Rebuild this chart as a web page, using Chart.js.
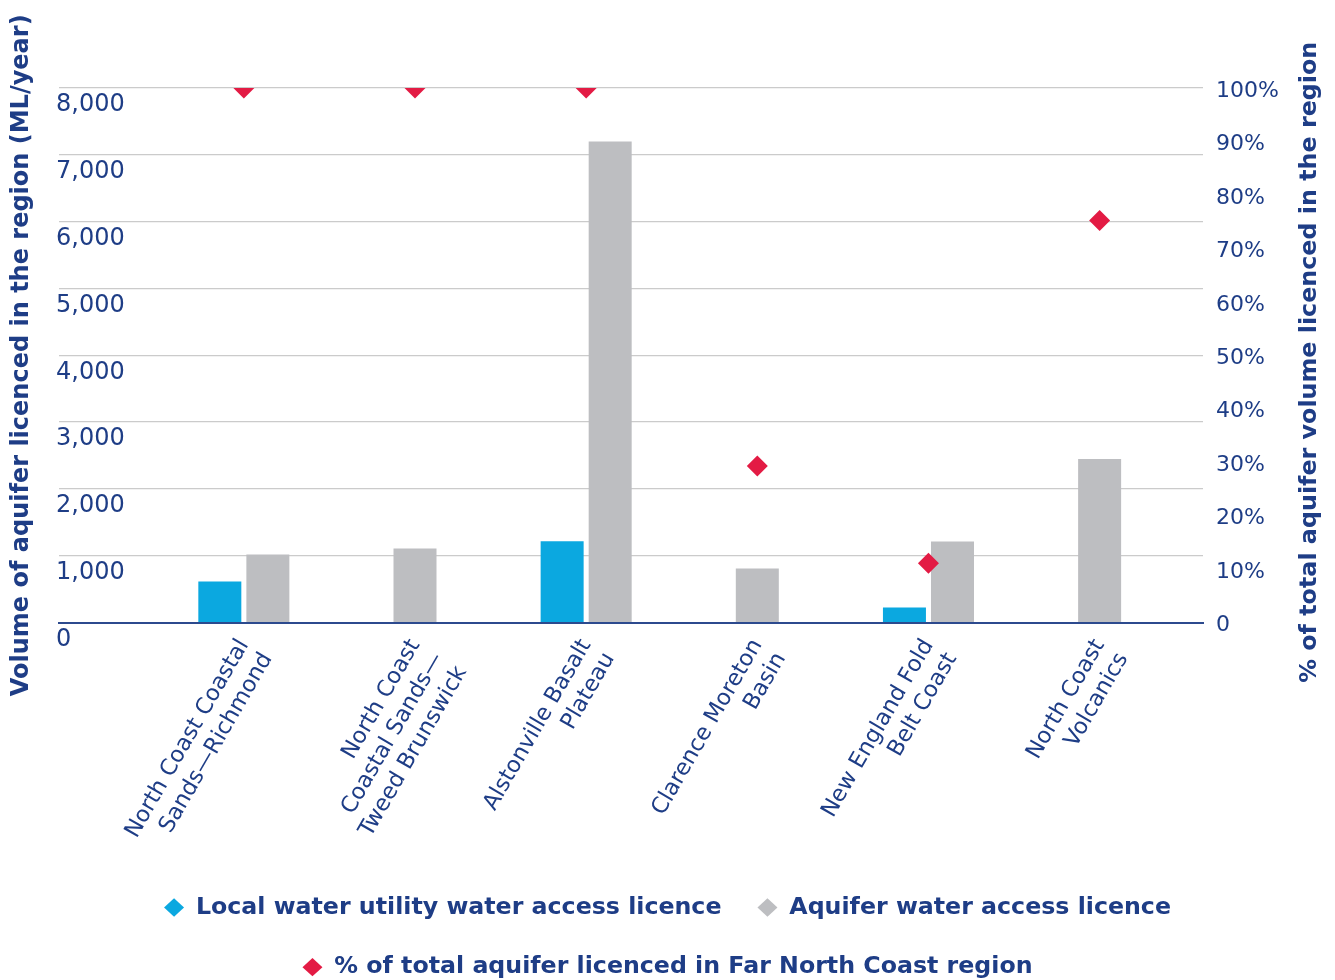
<!DOCTYPE html>
<html>
<head>
<meta charset="utf-8">
<script src="https://cdn.jsdelivr.net/npm/chart.js@4.4.1/dist/chart.umd.min.js"></script>
<style>
html,body{margin:0;padding:0;background:#ffffff;}
#wrap{width:1335px;height:980px;position:relative;}
</style>
</head>
<body>
<div id="wrap"><canvas id="c" width="1335" height="980"></canvas></div>
<script>
// ---- data ----
const categories = [
  ["North Coast Coastal", "Sands\u2014Richmond"],
  ["North Coast", "Coastal Sands\u2014", "Tweed Brunswick"],
  ["Alstonville Basalt", "Plateau"],
  ["Clarence Moreton", "Basin"],
  ["New England Fold", "Belt Coast"],
  ["North Coast", "Volcanics"]
];
const localUtility = [615, null, 1216, null, 225, null];
const aquiferLicence = [1020, 1110, 7200, 810, 1215, 2450];
const percentTotal = [100, 100, 100, 29.3, 11.1, 75.2];
const seriesNames = [
  "Local water utility water access licence",
  "Aquifer water access licence",
  "% of total aquifer licenced in Far North Coast region"
];
const leftTitle = "Volume of aquifer licenced in the region (ML/year)";
const rightTitle = "% of total aquifer volume licenced in the region";

// ---- style ----
const navy = '#1e3d86';
const blue = '#0ba8e0';
const grey = '#bdbec1';
const red = '#e31b44';
const FONT = 'DejaVu Sans';

const toXY = arr => arr.map((v, i) => ({ x: i, y: v }));

const rightTitlePlugin = {
  id: 'rightTitle',
  afterDraw(chart) {
    const s = chart.scales.y1;
    const ca = chart.chartArea;
    const ctx = chart.ctx;
    ctx.save();
    ctx.translate(s.right - 25, (ca.top + ca.bottom) / 2 + 7);
    ctx.rotate(-Math.PI / 2);
    ctx.font = 'bold 23.8px "' + FONT + '"';
    ctx.fillStyle = navy;
    ctx.textAlign = 'center';
    ctx.textBaseline = 'middle';
    ctx.fillText(rightTitle, 0, 0);
    ctx.restore();
  }
};

new Chart(document.getElementById('c'), {
  data: {
    datasets: [
      {
        type: 'bar', label: seriesNames[0], data: toXY(localUtility),
        backgroundColor: blue, borderWidth: 0, pointStyle: 'rectRot',
        skipNull: true, categoryPercentage: 0.5614, barPercentage: 0.896, maxBarThickness: 43,
        yAxisID: 'y', order: 1
      },
      {
        type: 'bar', label: seriesNames[1], data: toXY(aquiferLicence),
        backgroundColor: grey, borderWidth: 0, pointStyle: 'rectRot',
        skipNull: true, categoryPercentage: 0.5614, barPercentage: 0.896, maxBarThickness: 43,
        yAxisID: 'y', order: 1
      },
      {
        type: 'line', label: seriesNames[2], data: toXY(percentTotal),
        showLine: false, pointStyle: 'rectRot', pointRadius: 10.5, pointHoverRadius: 10.5,
        backgroundColor: red, borderColor: red, pointBorderWidth: 0,
        yAxisID: 'y1', order: 0
      }
    ]
  },
  plugins: [rightTitlePlugin],
  options: {
    responsive: false,
    animation: false,
    devicePixelRatio: 1,
    events: [],
    layout: { padding: { top: 88, left: 0, right: 0, bottom: -9 } },
    plugins: {
      tooltip: { enabled: false },
      legend: {
        position: 'bottom',
        labels: {
          usePointStyle: true, pointStyleWidth: 20, boxHeight: 13, padding: 36,
          color: navy, font: { family: FONT, size: 23.7, weight: 'bold' },
          sort: (a, b) => a.datasetIndex - b.datasetIndex
        }
      }
    },
    scales: {
      x: {
        type: 'linear', min: -1.08, max: 5.604, offset: false,
        grid: { display: false },
        border: { display: true, color: '#2c4a8e', width: 2 },
        afterBuildTicks: s => { s.ticks = categories.map((_, i) => ({ value: i })); },
        afterFit: s => { s.height = 237; },
        ticks: {
          autoSkip: false, minRotation: 60, maxRotation: 60, padding: 4,
          color: navy, font: { family: FONT, size: 22.5 },
          callback: v => categories[v]
        }
      },
      y: {
        position: 'left', min: 0, max: 8000,
        grid: { color: '#cbcbcb', lineWidth: 1.3, drawTicks: false },
        border: { display: false },
        ticks: {
          stepSize: 1000, mirror: true, padding: -3, labelOffset: 17,
          color: navy, font: { family: FONT, size: 24 },
          callback: v => v === 0 ? '0' : v.toLocaleString('en-US')
        },
        title: {
          display: true, text: leftTitle, color: navy,
          font: { family: FONT, size: 24, weight: 'bold' },
          padding: { top: 7, bottom: 29.2 }
        }
      },
      y1: {
        position: 'right', min: 0, max: 100,
        grid: { display: false, drawTicks: false },
        border: { display: false },
        afterFit: s => { s.width = 132; },
        ticks: {
          stepSize: 10, padding: 13, labelOffset: 3,
          color: navy, font: { family: FONT, size: 22 },
          callback: v => v === 0 ? '0' : v + '%'
        },
        title: { display: false }
      }
    }
  }
});
</script>
</body>
</html>
